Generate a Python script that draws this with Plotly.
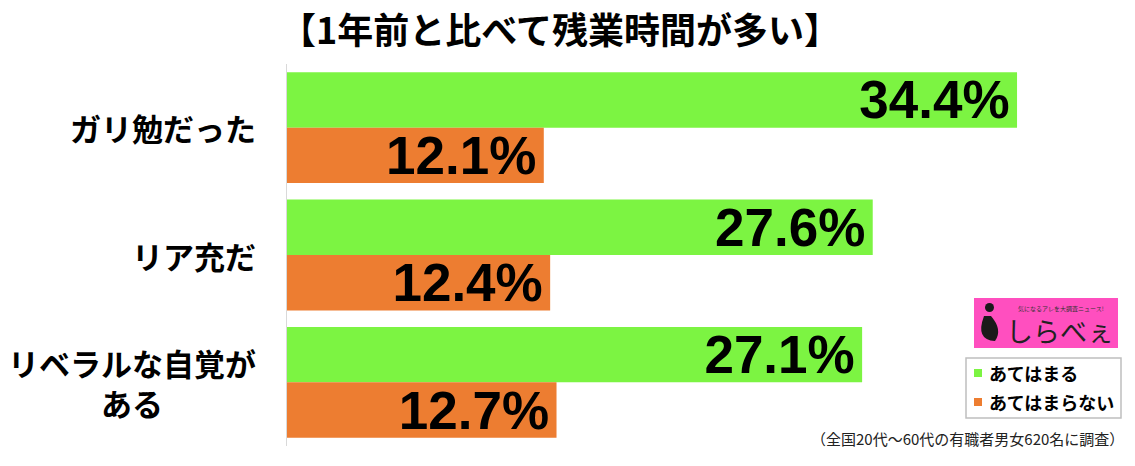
import plotly.graph_objects as go

# ===== data =====
categories = ["ガリ勉だった", "リア充だ", "リベラルな自覚が<br>ある"]
series_names = ["あてはまる", "あてはまらない"]
values_yes = [34.4, 27.6, 27.1]
values_no = [12.1, 12.4, 12.7]
colors = ["#7CF442", "#ED7D31"]

title_text = "【1年前と比べて残業時間が多い】"
note_text = "（全国20代～60代の有職者男女620名に調査）"

JP = "Noto Sans CJK JP"

# body margin is removed in the page, so figure pixels = screenshot pixels
W, H = 1135, 466
L, R, T, B = 287, 84, 64, 20
PW, PH = W - L - R, H - T - B


# helpers: screenshot pixel -> paper coordinate
def px_x(x):
    return (x - L) / PW


def px_y(y):
    return (H - B - y) / PH


# ===== figure =====
fig = go.Figure()

for name, vals, color in zip(series_names, [values_yes, values_no], colors):
    fig.add_trace(
        go.Bar(
            y=categories,
            x=vals,
            orientation="h",
            name=name,
            marker=dict(color=color, line=dict(width=0)),
            texttemplate="%{x:.1f}%\u200a",
            textposition="inside",
            insidetextanchor="end",
            textangle=0,
            constraintext="none",
            textfont=dict(family="Liberation Sans", size=53, color="black", weight="bold"),
            hoverinfo="skip",
            showlegend=False,
        )
    )

fig.update_layout(
    width=W,
    height=H,
    margin=dict(l=L, r=R, t=T, b=B, autoexpand=False),
    plot_bgcolor="white",
    paper_bgcolor="white",
    barmode="group",
    bargap=0.13,
    bargroupgap=0,
    title=dict(
        text=title_text,
        x=560 / W,
        xanchor="center",
        y=1 - 31 / H,
        yanchor="middle",
        font=dict(family=JP, size=36, color="black", weight="bold"),
    ),
)

fig.update_xaxes(
    range=[0, 36],
    showticklabels=False,
    showgrid=False,
    zeroline=False,
    showline=False,
    automargin=False,
)
fig.update_yaxes(
    autorange="reversed",
    showgrid=False,
    showline=True,
    linecolor="#d9d9d9",
    linewidth=1,
    ticks="",
    showticklabels=False,
    automargin=False,
)

# category labels, centred lines like the original
for cat in categories:
    fig.add_annotation(
        text=cat, xref="paper", yref="y",
        x=px_x(258), y=cat, xanchor="right", yanchor="middle",
        align="center", showarrow=False,
        font=dict(family=JP, size=31, color="black", weight="bold"),
    )

# legend box (drawn by hand to match the original layout)
fig.add_shape(
    type="rect", xref="paper", yref="paper",
    x0=px_x(966), x1=px_x(1121), y0=px_y(418), y1=px_y(358),
    fillcolor="white", line=dict(color="#bfbfbf", width=1.5), layer="above",
)
for i, (name, color) in enumerate(zip(series_names, colors)):
    yc = 373 + 29 * i
    fig.add_shape(
        type="rect", xref="paper", yref="paper",
        x0=px_x(974), x1=px_x(982), y0=px_y(yc + 4), y1=px_y(yc - 4),
        fillcolor=color, line=dict(width=0), layer="above",
    )
    fig.add_annotation(
        text=name, xref="paper", yref="paper",
        x=px_x(987), y=px_y(yc), xanchor="left", yanchor="middle",
        showarrow=False,
        font=dict(family=JP, size=18, color="black", weight="bold"),
    )

# logo block
fig.add_shape(
    type="rect", xref="paper", yref="paper",
    x0=px_x(974), x1=px_x(1118), y0=px_y(348), y1=px_y(298),
    fillcolor="#FF4FBF", line=dict(width=0), layer="above",
)
fig.add_shape(
    type="circle", xref="paper", yref="paper",
    x0=px_x(985), x1=px_x(994), y0=px_y(312), y1=px_y(303),
    fillcolor="#1a1a1a", line=dict(width=0), layer="above",
)
fig.add_shape(
    type="path", xref="paper", yref="paper",
    path="M {a},{b} L {c},{b} Q {d},{e} {f},{g} Q {h},{i} {a},{b} Z".format(
        a=px_x(984), b=px_y(316), c=px_x(991), d=px_x(1003), e=px_y(330),
        f=px_x(995), g=px_y(341), h=px_x(975), i=px_y(340),
    ),
    fillcolor="#1a1a1a", line=dict(width=0), layer="above",
)
fig.add_annotation(
    text="気になるアレを大調査ニュース!", xref="paper", yref="paper",
    x=px_x(1061), y=px_y(308), xanchor="center", yanchor="middle",
    showarrow=False,
    font=dict(family=JP, size=6, color="#333333"),
)
fig.add_annotation(
    text="しらべぇ", xref="paper", yref="paper",
    x=px_x(1060), y=px_y(330), xanchor="center", yanchor="middle",
    showarrow=False,
    font=dict(family=JP, size=27, color="#222222"),
)

# footnote
fig.add_annotation(
    text=note_text, xref="paper", yref="paper",
    x=px_x(1126), y=px_y(438), xanchor="right", yanchor="middle",
    showarrow=False,
    font=dict(family=JP, size=15, color="#222222"),
)

fig.write_html(
    "out.html",
    config={"displayModeBar": False},
    post_script="document.body.style.margin = '0';",
)
